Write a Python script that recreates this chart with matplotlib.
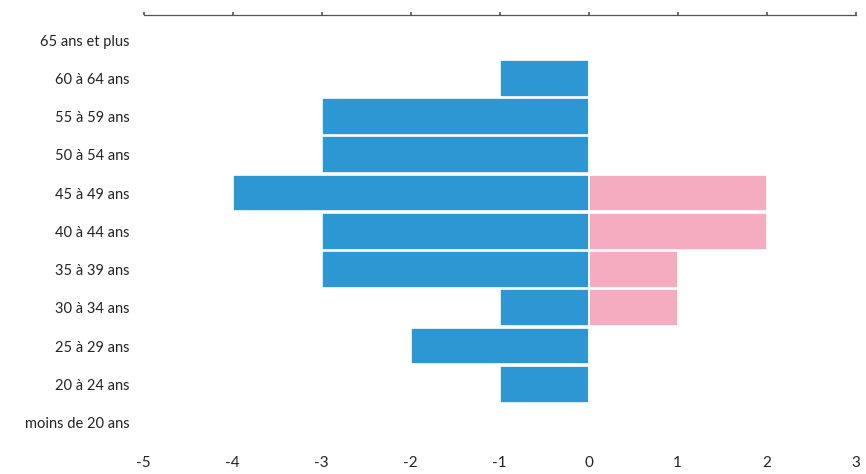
import matplotlib.pyplot as plt

# tranches d'age, du bas vers le haut
ages = ["moins de 20 ans", "20 à 24 ans", "25 à 29 ans", "30 à 34 ans",
        "35 à 39 ans", "40 à 44 ans", "45 à 49 ans", "50 à 54 ans",
        "55 à 59 ans", "60 à 64 ans", "65 ans et plus"]
hommes = [0, -1, -2, -1, -3, -3, -4, -3, -3, -1, 0]
femmes = [0, 0, 0, 1, 1, 2, 2, 0, 0, 0, 0]
xticks = [-5, -4, -3, -2, -1, 0, 1, 2, 3]

plt.rcParams['font.family'] = ['Lato', 'DejaVu Sans']

fig = plt.figure(figsize=(8.66, 4.74), dpi=100)
ax = fig.add_axes([0.166, 0.056, 0.822, 0.912])

y = range(len(ages))
ax.barh(y, hommes, height=0.96, color='#2d97d3', edgecolor='white', linewidth=1.2)
ax.barh(y, femmes, height=0.96, color='#f5acc1', edgecolor='white', linewidth=1.2)

ax.set_xlim(-5, 3)
ax.set_ylim(-0.65, 10.65)
ax.set_yticks(list(y))
ax.set_yticklabels(ages, fontsize=10.5, color='#222222')
ax.set_xticks(xticks)
ax.set_xticklabels([str(v) for v in xticks], fontsize=11, color='#222222')

for s in ['left', 'right', 'bottom']:
    ax.spines[s].set_visible(False)
ax.spines['top'].set_color('#555555')
ax.spines['top'].set_linewidth(0.9)

ax.tick_params(axis='y', length=0, pad=10)
ax.tick_params(axis='x', bottom=False, top=True, labelbottom=True, labeltop=False,
               length=2, width=1.2, color='#555555', direction='out', pad=4.5)

fig.savefig('out.png', dpi=100)
